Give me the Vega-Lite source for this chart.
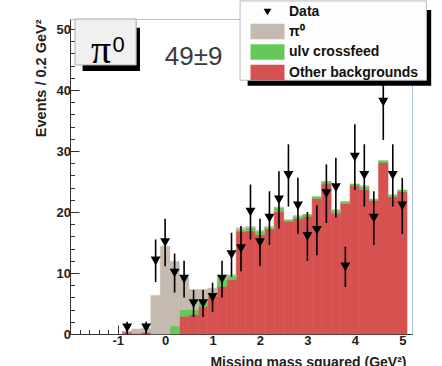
{
  "$schema": "https://vega.github.io/schema/vega-lite/v6.json",
  "width": 342,
  "height": 315,
  "autosize": {"type": "none"},
  "padding": {"left": 70, "top": 19, "right": 30, "bottom": 32},
  "background": "white",
  "config": {
    "font": "Liberation Sans",
    "view": {"stroke": "#a9c3dc", "strokeWidth": 1},
    "axis": {
      "domainColor": "#333333", "tickColor": "#333333", "grid": false, "tickCount": 100,
      "labelFont": "Liberation Sans", "labelFontWeight": "bold", "labelFontSize": 13, "labelColor": "#222222",
      "titleFont": "Liberation Sans", "titleFontWeight": "bold", "titleFontSize": 14, "titleColor": "#222222",
      "labelOverlap": false, "labelFlush": false
    }
  },
  "datasets": {
    "hist": [
      {"x0": -0.9, "x1": -0.7, "comp": "Other backgrounds", "k": 1, "n": 0.3},
      {"x0": -0.7, "x1": -0.5, "comp": "Other backgrounds", "k": 1, "n": 0.1},
      {"x0": -0.5, "x1": -0.3, "comp": "Other backgrounds", "k": 1, "n": 0.3},
      {"x0": 0.3, "x1": 0.5, "comp": "Other backgrounds", "k": 1, "n": 2.9},
      {"x0": 0.5, "x1": 0.7, "comp": "Other backgrounds", "k": 1, "n": 3.2},
      {"x0": 0.7, "x1": 0.9, "comp": "Other backgrounds", "k": 1, "n": 4.5},
      {"x0": 0.9, "x1": 1.1, "comp": "Other backgrounds", "k": 1, "n": 6.2},
      {"x0": 1.1, "x1": 1.3, "comp": "Other backgrounds", "k": 1, "n": 7.8},
      {"x0": 1.3, "x1": 1.5, "comp": "Other backgrounds", "k": 1, "n": 8.9},
      {"x0": 1.5, "x1": 1.7, "comp": "Other backgrounds", "k": 1, "n": 16.8},
      {"x0": 1.7, "x1": 1.9, "comp": "Other backgrounds", "k": 1, "n": 16.9},
      {"x0": 1.9, "x1": 2.1, "comp": "Other backgrounds", "k": 1, "n": 16.3},
      {"x0": 2.1, "x1": 2.3, "comp": "Other backgrounds", "k": 1, "n": 17.2},
      {"x0": 2.3, "x1": 2.5, "comp": "Other backgrounds", "k": 1, "n": 20.1},
      {"x0": 2.5, "x1": 2.7, "comp": "Other backgrounds", "k": 1, "n": 18.5},
      {"x0": 2.7, "x1": 2.9, "comp": "Other backgrounds", "k": 1, "n": 18.9},
      {"x0": 2.9, "x1": 3.1, "comp": "Other backgrounds", "k": 1, "n": 19.3},
      {"x0": 3.1, "x1": 3.3, "comp": "Other backgrounds", "k": 1, "n": 22.2},
      {"x0": 3.3, "x1": 3.5, "comp": "Other backgrounds", "k": 1, "n": 24.6},
      {"x0": 3.5, "x1": 3.7, "comp": "Other backgrounds", "k": 1, "n": 19.8},
      {"x0": 3.7, "x1": 3.9, "comp": "Other backgrounds", "k": 1, "n": 21.4},
      {"x0": 3.9, "x1": 4.1, "comp": "Other backgrounds", "k": 1, "n": 24.4},
      {"x0": 4.1, "x1": 4.3, "comp": "Other backgrounds", "k": 1, "n": 23.7},
      {"x0": 4.3, "x1": 4.5, "comp": "Other backgrounds", "k": 1, "n": 21.9},
      {"x0": 4.5, "x1": 4.7, "comp": "Other backgrounds", "k": 1, "n": 28.1},
      {"x0": 4.7, "x1": 4.9, "comp": "Other backgrounds", "k": 1, "n": 22.5},
      {"x0": 4.9, "x1": 5.1, "comp": "Other backgrounds", "k": 1, "n": 23.3},
      {"x0": 0.1, "x1": 0.3, "comp": "ulv crossfeed", "k": 2, "n": 1.3},
      {"x0": 0.3, "x1": 0.5, "comp": "ulv crossfeed", "k": 2, "n": 1.1},
      {"x0": 0.5, "x1": 0.7, "comp": "ulv crossfeed", "k": 2, "n": 0.8},
      {"x0": 0.7, "x1": 0.9, "comp": "ulv crossfeed", "k": 2, "n": 0.9},
      {"x0": 0.9, "x1": 1.1, "comp": "ulv crossfeed", "k": 2, "n": 0.5},
      {"x0": 1.1, "x1": 1.3, "comp": "ulv crossfeed", "k": 2, "n": 1.2},
      {"x0": 1.3, "x1": 1.5, "comp": "ulv crossfeed", "k": 2, "n": 0.6},
      {"x0": 1.5, "x1": 1.7, "comp": "ulv crossfeed", "k": 2, "n": 0.3},
      {"x0": 1.7, "x1": 1.9, "comp": "ulv crossfeed", "k": 2, "n": 0.5},
      {"x0": 1.9, "x1": 2.1, "comp": "ulv crossfeed", "k": 2, "n": 0.5},
      {"x0": 2.1, "x1": 2.3, "comp": "ulv crossfeed", "k": 2, "n": 0.3},
      {"x0": 2.3, "x1": 2.5, "comp": "ulv crossfeed", "k": 2, "n": 0.6},
      {"x0": 2.5, "x1": 2.7, "comp": "ulv crossfeed", "k": 2, "n": 0.2},
      {"x0": 2.7, "x1": 2.9, "comp": "ulv crossfeed", "k": 2, "n": 0.4},
      {"x0": 2.9, "x1": 3.1, "comp": "ulv crossfeed", "k": 2, "n": 0.3},
      {"x0": 3.1, "x1": 3.3, "comp": "ulv crossfeed", "k": 2, "n": 0.3},
      {"x0": 3.3, "x1": 3.5, "comp": "ulv crossfeed", "k": 2, "n": 0.4},
      {"x0": 3.5, "x1": 3.7, "comp": "ulv crossfeed", "k": 2, "n": 0.5},
      {"x0": 3.7, "x1": 3.9, "comp": "ulv crossfeed", "k": 2, "n": 0.3},
      {"x0": 3.9, "x1": 4.1, "comp": "ulv crossfeed", "k": 2, "n": 0.2},
      {"x0": 4.1, "x1": 4.3, "comp": "ulv crossfeed", "k": 2, "n": 0.5},
      {"x0": 4.3, "x1": 4.5, "comp": "ulv crossfeed", "k": 2, "n": 0.2},
      {"x0": 4.5, "x1": 4.7, "comp": "ulv crossfeed", "k": 2, "n": 0.3},
      {"x0": 4.7, "x1": 4.9, "comp": "ulv crossfeed", "k": 2, "n": 0.3},
      {"x0": 4.9, "x1": 5.1, "comp": "ulv crossfeed", "k": 2, "n": 0.3},
      {"x0": -0.9, "x1": -0.7, "comp": "π⁰", "k": 3, "n": 0.2},
      {"x0": -0.7, "x1": -0.5, "comp": "π⁰", "k": 3, "n": 0.7},
      {"x0": -0.5, "x1": -0.3, "comp": "π⁰", "k": 3, "n": 0.6},
      {"x0": -0.3, "x1": -0.1, "comp": "π⁰", "k": 3, "n": 6.3},
      {"x0": -0.1, "x1": 0.1, "comp": "π⁰", "k": 3, "n": 14.4},
      {"x0": 0.1, "x1": 0.3, "comp": "π⁰", "k": 3, "n": 10.6},
      {"x0": 0.3, "x1": 0.5, "comp": "π⁰", "k": 3, "n": 5.2},
      {"x0": 0.5, "x1": 0.7, "comp": "π⁰", "k": 3, "n": 3.3},
      {"x0": 0.7, "x1": 0.9, "comp": "π⁰", "k": 3, "n": 1.9},
      {"x0": 0.9, "x1": 1.1, "comp": "π⁰", "k": 3, "n": 0.8},
      {"x0": 1.1, "x1": 1.3, "comp": "π⁰", "k": 3, "n": 0.5},
      {"x0": 1.3, "x1": 1.5, "comp": "π⁰", "k": 3, "n": 0.2},
      {"x0": 1.5, "x1": 1.7, "comp": "π⁰", "k": 3, "n": 0.3},
      {"x0": 1.7, "x1": 1.9, "comp": "π⁰", "k": 3, "n": 0.2},
      {"x0": 1.9, "x1": 2.1, "comp": "π⁰", "k": 3, "n": 0.2},
      {"x0": 2.1, "x1": 2.3, "comp": "π⁰", "k": 3, "n": 0.1},
      {"x0": 2.3, "x1": 2.5, "comp": "π⁰", "k": 3, "n": 0.1},
      {"x0": 2.7, "x1": 2.9, "comp": "π⁰", "k": 3, "n": 0.1},
      {"x0": 3.5, "x1": 3.7, "comp": "π⁰", "k": 3, "n": 0.1},
      {"x0": 4.1, "x1": 4.3, "comp": "π⁰", "k": 3, "n": 0.1}
    ],
    "pts": [
      {"x": -0.8, "n": 1, "lo": 0, "hi": 2},
      {"x": -0.4, "n": 1, "lo": 0, "hi": 2},
      {"x": -0.2, "n": 12, "lo": 8.5, "hi": 15.5},
      {"x": 0, "n": 15, "lo": 11.1, "hi": 18.9},
      {"x": 0.2, "n": 10, "lo": 6.8, "hi": 13.2},
      {"x": 0.4, "n": 9, "lo": 6, "hi": 12},
      {"x": 0.6, "n": 5, "lo": 2.8, "hi": 7.2},
      {"x": 0.8, "n": 5, "lo": 2.8, "hi": 7.2},
      {"x": 1.0, "n": 6, "lo": 3.6, "hi": 8.4},
      {"x": 1.2, "n": 9, "lo": 6, "hi": 12},
      {"x": 1.4, "n": 13, "lo": 9.4, "hi": 16.6},
      {"x": 1.6, "n": 14, "lo": 10.3, "hi": 17.7},
      {"x": 1.8, "n": 20, "lo": 15.5, "hi": 24.5},
      {"x": 2.0, "n": 15, "lo": 11.1, "hi": 18.9},
      {"x": 2.2, "n": 19, "lo": 14.6, "hi": 23.4},
      {"x": 2.4, "n": 22, "lo": 17.3, "hi": 26.7},
      {"x": 2.6, "n": 26, "lo": 20.9, "hi": 31.1},
      {"x": 2.8, "n": 21, "lo": 16.4, "hi": 25.6},
      {"x": 3.0, "n": 16, "lo": 12, "hi": 20},
      {"x": 3.2, "n": 17, "lo": 12.9, "hi": 21.1},
      {"x": 3.4, "n": 23, "lo": 18.2, "hi": 27.8},
      {"x": 3.6, "n": 24, "lo": 19.1, "hi": 28.9},
      {"x": 3.8, "n": 11, "lo": 7.7, "hi": 14.3},
      {"x": 4.0, "n": 29, "lo": 23.6, "hi": 34.4},
      {"x": 4.2, "n": 26, "lo": 20.9, "hi": 31.1},
      {"x": 4.4, "n": 19, "lo": 14.6, "hi": 23.4},
      {"x": 4.6, "n": 38, "lo": 31.8, "hi": 44.2},
      {"x": 4.8, "n": 26, "lo": 20.9, "hi": 31.1},
      {"x": 5.0, "n": 21, "lo": 16.4, "hi": 25.6}
    ]
  },
  "layer": [
    {
      "data": {"name": "hist"},
      "mark": {"type": "bar", "orient": "vertical", "strokeWidth": 0.6},
      "encoding": {
        "x": {
          "field": "x0", "type": "quantitative",
          "scale": {"domain": [-1.9, 5.1], "nice": false, "zero": false},
          "axis": {"title": "Missing mass squared (GeV²)", "values": [-1.8, -1.6, -1.4, -1.2, -1, -0.8, -0.6, -0.4, -0.2, 0, 0.2, 0.4, 0.6, 0.8, 1, 1.2, 1.4, 1.6, 1.8, 2, 2.2, 2.4, 2.6, 2.8, 3, 3.2, 3.4, 3.6, 3.8, 4, 4.2, 4.4, 4.6, 4.8, 5], "labelExpr": "abs(datum.value - round(datum.value)) < 0.001 ? '' + round(datum.value) : ''", "labelOverlap": false, "labelPadding": 9.5, "tickCount": 100, "tickSize": {"condition": {"test": "abs(datum.value - round(datum.value)) < 0.001", "value": -9}, "value": -4.5}, "titleAnchor": "end", "titleX": 336, "titlePadding": 3}
        },
        "x2": {"field": "x1"},
        "y": {
          "field": "n", "type": "quantitative", "stack": "zero",
          "scale": {"domain": [0, 51.64], "nice": false},
          "axis": {"title": "Events / 0.2 GeV²", "titleFontSize": 14.5, "values": [0, 2, 4, 6, 8, 10, 12, 14, 16, 18, 20, 22, 24, 26, 28, 30, 32, 34, 36, 38, 40, 42, 44, 46, 48, 50], "labelExpr": "datum.value % 10 === 0 ? '' + datum.value : ''", "labelOverlap": false, "labelPadding": 8.5, "tickCount": 100, "tickSize": {"condition": {"test": "datum.value % 10 === 0", "value": -9}, "value": -4.5}, "titleAnchor": "end", "titlePadding": 8}
        },
        "color": {
          "field": "comp", "type": "nominal",
          "scale": {"domain": ["Data", "π⁰", "ulv crossfeed", "Other backgrounds"], "range": ["#000000", "#c4bab0", "#66c85a", "#d65250"]},
          "legend": {
            "title": null, "orient": "none", "legendX": 170, "legendY": -15.5, "padding": 0,
            "rowPadding": 3.5, "symbolType": "M-2,-0.9H2V0.9H-2Z", "symbolSize": 289, "symbolOffset": 19,
            "labelOffset": 13, "labelFontSize": 14, "labelFontWeight": "bold", "labelFont": "Liberation Sans", "labelColor": "#111111",
            "symbolStrokeWidth": 0,
            "encode": {"symbols": {"update": {
              "shape": {"signal": "datum.value === 'Data' ? 'triangle-down' : 'M-2,-0.9H2V0.9H-2Z'"},
              "size": {"signal": "datum.value === 'Data' ? 60 : 289"}
            }}}
          }
        },
        "stroke": {
          "field": "comp", "type": "nominal",
          "scale": {"domain": ["Data", "π⁰", "ulv crossfeed", "Other backgrounds"], "range": ["#000000", "#c4bab0", "#66c85a", "#d65250"]},
          "legend": null
        },
        "order": {"field": "k", "type": "quantitative"}
      }
    },
    {
      "data": {"name": "pts"},
      "mark": {"type": "rule", "color": "black", "strokeWidth": 1.6},
      "encoding": {
        "x": {"field": "x", "type": "quantitative", "axis": {"title": "Missing mass squared (GeV²)", "values": [-1.8, -1.6, -1.4, -1.2, -1, -0.8, -0.6, -0.4, -0.2, 0, 0.2, 0.4, 0.6, 0.8, 1, 1.2, 1.4, 1.6, 1.8, 2, 2.2, 2.4, 2.6, 2.8, 3, 3.2, 3.4, 3.6, 3.8, 4, 4.2, 4.4, 4.6, 4.8, 5], "labelExpr": "abs(datum.value - round(datum.value)) < 0.001 ? '' + round(datum.value) : ''", "labelOverlap": false, "labelPadding": 9.5, "tickCount": 100, "tickSize": {"condition": {"test": "abs(datum.value - round(datum.value)) < 0.001", "value": -9}, "value": -4.5}, "titleAnchor": "end", "titleX": 336, "titlePadding": 3}},
        "y": {"field": "lo", "type": "quantitative", "axis": {"title": "Events / 0.2 GeV²", "titleFontSize": 14.5, "values": [0, 2, 4, 6, 8, 10, 12, 14, 16, 18, 20, 22, 24, 26, 28, 30, 32, 34, 36, 38, 40, 42, 44, 46, 48, 50], "labelExpr": "datum.value % 10 === 0 ? '' + datum.value : ''", "labelOverlap": false, "labelPadding": 8.5, "tickCount": 100, "tickSize": {"condition": {"test": "datum.value % 10 === 0", "value": -9}, "value": -4.5}, "titleAnchor": "end", "titlePadding": 8}},
        "y2": {"field": "hi"}
      }
    },
    {
      "data": {"name": "pts"},
      "mark": {"type": "point", "shape": "triangle-down", "filled": true, "size": 100, "opacity": 1, "strokeWidth": 0},
      "encoding": {
        "x": {"field": "x", "type": "quantitative", "axis": {"title": "Missing mass squared (GeV²)", "values": [-1.8, -1.6, -1.4, -1.2, -1, -0.8, -0.6, -0.4, -0.2, 0, 0.2, 0.4, 0.6, 0.8, 1, 1.2, 1.4, 1.6, 1.8, 2, 2.2, 2.4, 2.6, 2.8, 3, 3.2, 3.4, 3.6, 3.8, 4, 4.2, 4.4, 4.6, 4.8, 5], "labelExpr": "abs(datum.value - round(datum.value)) < 0.001 ? '' + round(datum.value) : ''", "labelOverlap": false, "labelPadding": 9.5, "tickCount": 100, "tickSize": {"condition": {"test": "abs(datum.value - round(datum.value)) < 0.001", "value": -9}, "value": -4.5}, "titleAnchor": "end", "titleX": 336, "titlePadding": 3}},
        "y": {"field": "n", "type": "quantitative", "axis": {"title": "Events / 0.2 GeV²", "titleFontSize": 14.5, "values": [0, 2, 4, 6, 8, 10, 12, 14, 16, 18, 20, 22, 24, 26, 28, 30, 32, 34, 36, 38, 40, 42, 44, 46, 48, 50], "labelExpr": "datum.value % 10 === 0 ? '' + datum.value : ''", "labelOverlap": false, "labelPadding": 8.5, "tickCount": 100, "tickSize": {"condition": {"test": "datum.value % 10 === 0", "value": -9}, "value": -4.5}, "titleAnchor": "end", "titlePadding": 8}},
        "color": {"datum": "Data"}
      }
    },
    {
      "data": {"values": [{}]},
      "mark": {"type": "rect", "color": "black"},
      "encoding": {"x": {"datum": 1.74}, "x2": {"datum": 5.61}, "y": {"datum": 53.1}, "y2": {"datum": 40.7}}
    },
    {
      "data": {"values": [{}]},
      "mark": {"type": "rect", "fill": "#fdfdfd", "stroke": "#b8b8b8", "strokeWidth": 1},
      "encoding": {"x": {"datum": 1.58}, "x2": {"datum": 5.51}, "y": {"datum": 54.6}, "y2": {"datum": 41.6}}
    },
    {
      "data": {"values": [{}]},
      "mark": {"type": "rect", "color": "black"},
      "encoding": {"x": {"datum": -1.74}, "x2": {"datum": -0.53}, "y": {"datum": 50.2}, "y2": {"datum": 43.1}}
    },
    {
      "data": {"values": [{}]},
      "mark": {"type": "rect", "fill": "#f0f0f0", "stroke": "#aaaaaa", "strokeWidth": 1},
      "encoding": {"x": {"datum": -1.9}, "x2": {"datum": -0.61}, "y": {"datum": 51.64}, "y2": {"datum": 44.1}}
    },
    {
      "data": {"values": [{}]},
      "mark": {"type": "text", "text": "π", "font": "Liberation Serif", "fontSize": 40, "align": "center", "baseline": "alphabetic", "color": "black"},
      "encoding": {"x": {"datum": -1.35}, "y": {"datum": 44.4}}
    },
    {
      "data": {"values": [{}]},
      "mark": {"type": "text", "text": "0", "font": "Liberation Sans", "fontSize": 22, "align": "center", "baseline": "alphabetic", "color": "black"},
      "encoding": {"x": {"datum": -0.98}, "y": {"datum": 46.2}}
    },
    {
      "data": {"values": [{}]},
      "mark": {"type": "text", "text": "49±9", "font": "Liberation Sans", "fontSize": 26, "align": "center", "baseline": "alphabetic", "color": "#3a3a3a"},
      "encoding": {"x": {"datum": 0.6}, "y": {"datum": 44.1}}
    }
  ]
}
